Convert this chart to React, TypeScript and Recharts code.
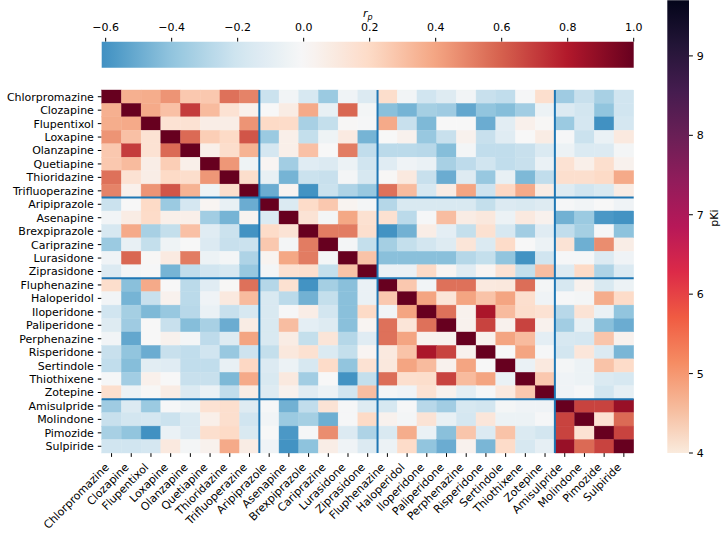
import React from "react"
import { ScatterChart, Scatter, ComposedChart, XAxis, YAxis, ReferenceLine, ReferenceArea } from "recharts"

const drugs = [
  "Chlorpromazine", "Clozapine", "Flupentixol", "Loxapine", "Olanzapine", "Quetiapine", "Thioridazine",
  "Trifluoperazine", "Aripiprazole", "Asenapine", "Brexpiprazole", "Cariprazine", "Lurasidone", "Ziprasidone",
  "Fluphenazine", "Haloperidol", "Iloperidone", "Paliperidone", "Perphenazine", "Risperidone", "Sertindole",
  "Thiothixene", "Zotepine", "Amisulpride", "Molindone", "Pimozide", "Sulpiride",
]

// group boundaries (between drug indices)
const groupBreaks = [7.5, 13.5, 22.5]

// lower triangle of the correlation matrix (row i holds columns 0..i), matrix is symmetric
const corrLower: number[][] = [
  [1],
  [0.36, 1],
  [0.37, 0.38, 1],
  [0.45, 0.3, 0.15, 1],
  [0.27, 0.7, 0.15, 0.57, 1],
  [0.27, 0.32, 0.07, 0.25, 0.06, 1],
  [0.55, 0.15, 0.07, 0.2, 0.18, 0.44, 1],
  [0.5, 0.05, 0.45, 0.63, 0.35, -0.05, 0.18, 1],
  [-0.22, 0.0, 0.2, -0.37, -0.18, 0.02, -0.08, -0.5, 1],
  [-0.03, 0.08, 0.19, 0.06, 0.06, -0.35, -0.47, 0.03, -0.15, 1],
  [-0.17, 0.38, -0.33, -0.24, 0.3, -0.12, -0.22, -0.6, 0.19, 0.14, 1],
  [-0.37, -0.08, -0.24, -0.05, 0.0, -0.14, -0.23, -0.22, 0.27, -0.02, 0.52, 1],
  [-0.04, 0.58, 0.01, 0.09, 0.52, -0.06, -0.02, -0.31, 0.03, 0.39, 0.52, -0.02, 1],
  [-0.14, -0.02, -0.01, -0.47, -0.25, -0.2, -0.17, -0.38, -0.02, 0.16, 0.17, -0.24, 0.29, 1],
  [0.18, -0.42, 0.38, 0.0, -0.27, -0.12, 0.01, 0.55, -0.29, 0.16, -0.6, -0.34, -0.42, -0.07, 1],
  [-0.03, -0.47, -0.23, 0.04, -0.27, -0.04, 0.1, 0.32, -0.16, -0.27, -0.48, -0.24, -0.42, -0.07, 0.27, 1],
  [-0.2, -0.34, -0.45, -0.38, -0.28, -0.07, -0.23, -0.17, -0.16, -0.01, 0.07, -0.19, -0.42, 0.2, -0.03, 0.4, 1],
  [-0.13, -0.36, 0.0, -0.23, -0.43, -0.33, -0.5, 0.08, -0.16, 0.31, -0.1, -0.13, -0.42, 0.02, 0.55, 0.13, 0.55, 1],
  [-0.03, -0.52, 0.0, 0.04, -0.02, -0.26, -0.13, 0.4, -0.16, 0.08, -0.24, 0.13, -0.29, -0.12, 0.55, 0.4, 0.04, 0.04, 1],
  [-0.23, -0.4, -0.5, -0.23, -0.25, -0.2, -0.38, -0.21, -0.24, 0.11, 0.16, -0.15, -0.24, 0.02, 0.1, 0.29, 0.82, 0.68, 0.04, 1],
  [-0.25, -0.43, -0.11, -0.12, -0.25, -0.25, -0.08, 0.21, -0.14, -0.06, -0.17, 0.19, -0.4, 0.15, 0.11, 0.4, 0.32, 0.04, 0.4, 0.0, 1],
  [-0.01, -0.35, 0.05, 0.0, -0.23, -0.23, -0.45, 0.38, -0.16, 0.1, -0.35, 0.0, -0.6, -0.24, 0.56, 0.17, 0.18, 0.68, 0.32, 0.4, -0.07, 1],
  [0.17, -0.06, 0.01, 0.08, -0.15, -0.07, -0.25, 0.08, -0.13, 0.04, -0.12, -0.06, -0.2, 0.31, -0.02, -0.04, 0.15, 0.04, -0.1, -0.01, 0.1, 0.27, 1],
  [-0.36, -0.14, -0.37, -0.01, -0.06, 0.15, 0.17, -0.13, -0.01, -0.48, -0.25, 0.14, -0.01, -0.13, -0.17, -0.01, -0.28, -0.35, -0.17, -0.19, -0.02, -0.04, -0.04, 1],
  [-0.23, -0.19, -0.18, -0.22, -0.15, 0.06, 0.17, -0.2, -0.03, -0.37, -0.34, -0.49, -0.01, 0.2, 0.04, -0.02, 0.14, -0.08, -0.18, 0.12, -0.06, -0.06, -0.01, 0.68, 1],
  [-0.33, -0.4, -0.61, -0.07, -0.14, 0.17, 0.2, -0.16, 0.0, -0.58, -0.01, 0.47, -0.14, -0.31, -0.16, 0.37, -0.07, -0.42, 0.28, -0.14, 0.29, -0.15, -0.19, 0.68, 0.15, 1],
  [-0.2, -0.2, -0.18, 0.1, -0.02, 0.04, 0.38, 0.08, -0.04, -0.6, -0.41, 0.07, -0.04, -0.14, -0.06, 0.19, -0.4, -0.5, 0.04, -0.46, 0.19, -0.17, -0.09, 0.87, 0.57, 0.68, 1],
]

const rpTicks = [-0.6, -0.4, -0.2, 0, 0.2, 0.4, 0.6, 0.8, 1.0]
const rpMin = -0.612
const rpMax = 1
const pkiTicks = [4, 5, 6, 7, 8, 9]
const pkiMin = 4
const pkiMax = 9.7

const RDBU_R = ["#053061", "#2166ac", "#4393c3", "#92c5de", "#d1e5f0", "#f7f7f7", "#fddbc7", "#f4a582", "#d6604d", "#b2182b", "#67001f"]
const ROCKET = ["#03051a", "#231537", "#451c4f", "#6a1f56", "#921c5b", "#b71858", "#dc2a48", "#f05b42", "#f58c63", "#f6bb9c", "#faebdd"]

const FONT = "DejaVu Sans, sans-serif"
const W = 722
const H = 533
const PLOT_LEFT = 101.7
const PLOT_RIGHT = 633.7
const PLOT_TOP = 90
const PLOT_BOTTOM = 453
const TICK = 3.9

function hexToRgb(h: string) {
  return [1, 3, 5].map((i) => parseInt(h.slice(i, i + 2), 16))
}

function rdbu(v: number) {
  const t = ((Math.max(-1, Math.min(1, v)) + 1) / 2) * 10
  const i = Math.min(9, Math.floor(t))
  const f = t - i
  const a = hexToRgb(RDBU_R[i])
  const b = hexToRgb(RDBU_R[i + 1])
  const c = a.map((x, k) => Math.round(x + (b[k] - x) * f))
  return `rgb(${c[0]},${c[1]},${c[2]})`
}

const fmt = (v: number) => v.toFixed(1).replace("-", "\u2212")

const cells = drugs.flatMap((_, r) =>
  drugs.map((__, c) => {
    const v = r >= c ? corrLower[r][c] : corrLower[c][r]
    return { x: c, y: r, v, fill: rdbu(v) }
  })
)

const n = drugs.length
const cellW = (PLOT_RIGHT - PLOT_LEFT) / n
const cellH = (PLOT_BOTTOM - PLOT_TOP) / n

function CellShape(props: any) {
  const { cx, cy, payload } = props
  return (
    <rect
      x={cx - cellW / 2}
      y={cy - cellH / 2}
      width={cellW}
      height={cellH}
      fill={payload.fill}
      stroke={payload.fill}
      strokeWidth={0.4}
    />
  )
}

const NoDot = () => <g />

function XTick(props: any) {
  const { x, y, payload } = props
  return (
    <g transform={`translate(${x - 1.8},${y + 7.2})`}>
      <text textAnchor="end" transform="rotate(-45)" fontSize={11} fontFamily={FONT} fill="#000">
        {drugs[payload.value]}
      </text>
    </g>
  )
}

function TopTick(props: any) {
  const { x, y, payload } = props
  return (
    <text x={x} y={y - 2.6} textAnchor="middle" fontSize={11} fontFamily={FONT} fill="#000">
      {fmt(payload.value)}
    </text>
  )
}

function RightTick(props: any) {
  const { x, y, payload } = props
  return (
    <text x={x} y={y + 4} textAnchor="start" fontSize={11} fontFamily={FONT} fill="#000">
      {payload.value}
    </text>
  )
}

const rpStops = Array.from({ length: 41 }, (_, i) => {
  const v = rpMin + ((rpMax - rpMin) * i) / 40
  return { offset: i / 40, color: rdbu(v) }
})

const layer: React.CSSProperties = { position: "absolute", left: 0, top: 0 }

export default function App() {
  const idx = drugs.map((_, i) => i)
  return (
    <div style={{ position: "absolute", left: 0, top: 0, width: W, height: H, background: "#fff", fontFamily: FONT }}>
      <div style={layer}>
        <ScatterChart width={W} height={H} margin={{ top: PLOT_TOP, right: W - PLOT_RIGHT, bottom: 0, left: 0 }}>
          <XAxis
            dataKey="x"
            type="number"
            domain={[-0.5, n - 0.5]}
            ticks={idx}
            interval={0}
            height={H - PLOT_BOTTOM}
            tickSize={TICK}
            tickMargin={TICK}
            axisLine={false}
            tickLine={{ stroke: "#000" }}
            tick={XTick}
          />
          <YAxis
            dataKey="y"
            type="number"
            domain={[-0.5, n - 0.5]}
            reversed
            ticks={idx}
            interval={0}
            width={PLOT_LEFT}
            tickSize={TICK}
            tickMargin={TICK}
            axisLine={false}
            tickLine={{ stroke: "#000" }}
            tick={{ fill: "#000", fontSize: 11, fontFamily: FONT }}
            tickFormatter={(v: number) => drugs[v]}
          />
          <Scatter data={cells} shape={CellShape} isAnimationActive={false} />
          {groupBreaks.map((b) => (
            <ReferenceLine key={`vx${b}`} x={b} stroke="#1f77b4" strokeWidth={2} isFront zIndex={1000} />
          ))}
          {groupBreaks.map((b) => (
            <ReferenceLine key={`hy${b}`} y={b} stroke="#1f77b4" strokeWidth={2} isFront zIndex={1000} />
          ))}
        </ScatterChart>
      </div>

      {/* r_p colorbar on top */}
      <div style={layer}>
        <ComposedChart
          width={W}
          height={PLOT_TOP}
          margin={{ top: 0, right: W - PLOT_RIGHT, bottom: PLOT_TOP - 67.7, left: PLOT_LEFT }}
        >
          <defs>
            <linearGradient id="rpGrad" x1="0" y1="0" x2="1" y2="0">
              {rpStops.map((s) => (
                <stop key={s.offset} offset={s.offset} stopColor={s.color} />
              ))}
            </linearGradient>
          </defs>
          <XAxis
            dataKey="x"
            type="number"
            orientation="top"
            domain={[rpMin, rpMax]}
            ticks={rpTicks}
            interval={0}
            height={41.7}
            tickSize={TICK}
            tickMargin={TICK}
            axisLine={false}
            tickLine={{ stroke: "#000" }}
            tick={TopTick}
          />
          <YAxis dataKey="y" type="number" domain={[0, 1]} hide />
          <Scatter data={[{ x: rpMin, y: 0 }, { x: rpMax, y: 1 }]} shape={NoDot} isAnimationActive={false} />
          <ReferenceArea x1={rpMin} x2={rpMax} y1={0} y2={1} fill="url(#rpGrad)" fillOpacity={1} stroke="none" isFront zIndex={1000} />
          <text x={(PLOT_LEFT + PLOT_RIGHT) / 2} y={17} textAnchor="middle" fontSize={11} fontFamily={FONT} fontStyle="italic" fill="#000">
            r<tspan dy={2.5} fontSize={8}>p</tspan>
          </text>
        </ComposedChart>
      </div>

      {/* pKi colorbar on the right */}
      <div style={layer}>
        <ComposedChart width={W} height={H} margin={{ top: 0.3, right: 0, bottom: H - PLOT_BOTTOM, left: 667.3 }}>
          <defs>
            <linearGradient id="pkiGrad" x1="0" y1="0" x2="0" y2="1">
              {ROCKET.map((c, i) => (
                <stop key={i} offset={i / (ROCKET.length - 1)} stopColor={c} />
              ))}
            </linearGradient>
          </defs>
          <XAxis dataKey="x" type="number" domain={[0, 1]} hide />
          <YAxis
            dataKey="y"
            type="number"
            orientation="right"
            domain={[pkiMin, pkiMax]}
            ticks={pkiTicks}
            interval={0}
            width={W - 689}
            tickSize={TICK}
            tickMargin={TICK}
            axisLine={false}
            tickLine={{ stroke: "#000" }}
            tick={RightTick}
          />
          <Scatter data={[{ x: 0, y: pkiMin }, { x: 1, y: pkiMax }]} shape={NoDot} isAnimationActive={false} />
          <ReferenceArea x1={0} x2={1} y1={pkiMin} y2={pkiMax} fill="url(#pkiGrad)" fillOpacity={1} stroke="none" isFront zIndex={1000} />
          <text
            x={714}
            y={218}
            textAnchor="middle"
            dominantBaseline="central"
            transform="rotate(-90, 714, 218)"
            fontSize={11}
            fontFamily={FONT}
            fill="#000"
          >
            pKi
          </text>
        </ComposedChart>
      </div>
    </div>
  )
}
